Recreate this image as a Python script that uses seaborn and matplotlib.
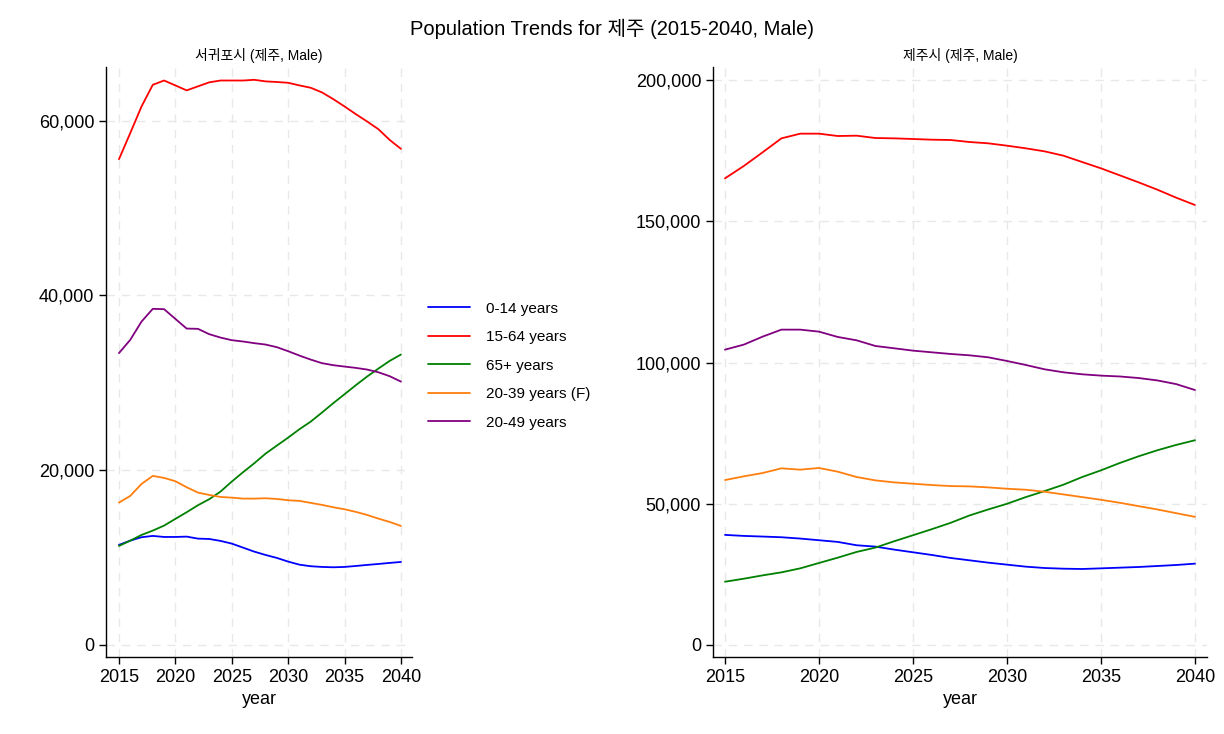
import numpy as np
import pandas as pd
import matplotlib
matplotlib.use("Agg")
import matplotlib.pyplot as plt
import seaborn as sns

# 연도
years = list(range(2015, 2041))

# 서귀포시 (제주, Male)
seogwipo_0_14 = [11450, 11940, 12330, 12480, 12360, 12360, 12400, 12170, 12130, 11910,
                 11600, 11140, 10680, 10300, 9960, 9540, 9190, 9010, 8930, 8890,
                 8930, 9040, 9160, 9270, 9390, 9500]
seogwipo_15_64 = [55600, 58580, 61630, 64110, 64600, 64040, 63470, 63930, 64390, 64600,
                  64600, 64600, 64680, 64500, 64430, 64340, 64040, 63770, 63240, 62470,
                  61630, 60750, 59910, 59030, 57800, 56780]
seogwipo_65 = [11330, 11940, 12590, 13090, 13660, 14430, 15190, 15990, 16680, 17550,
               18700, 19770, 20800, 21900, 22820, 23730, 24690, 25560, 26600, 27670,
               28700, 29730, 30720, 31630, 32510, 33240]
seogwipo_20_39f = [16290, 17060, 18430, 19350, 19120, 18740, 18050, 17440, 17170, 16940,
                   16860, 16750, 16750, 16790, 16710, 16560, 16490, 16260, 16030, 15760,
                   15530, 15230, 14880, 14460, 14080, 13620]
seogwipo_20_49 = [33400, 34920, 37010, 38470, 38430, 37320, 36210, 36180, 35570, 35180,
                  34880, 34730, 34540, 34380, 34080, 33620, 33120, 32660, 32250, 32020,
                  31860, 31710, 31520, 31210, 30760, 30140]

# 제주시 (제주, Male)
jeju_0_14 = [38980, 38620, 38390, 38150, 37680, 37090, 36490, 35310, 34830, 33770,
             32820, 31870, 30810, 29980, 29150, 28440, 27730, 27250, 27010, 26900,
             27130, 27370, 27610, 27960, 28320, 28790]
jeju_15_64 = [165290, 169660, 174500, 179450, 181110, 181110, 180280, 180400, 179570, 179450,
              179220, 178980, 178870, 178160, 177690, 176860, 175920, 174850, 173320, 171070,
              168830, 166350, 163870, 161270, 158440, 155840]
jeju_65 = [22390, 23460, 24640, 25710, 27130, 29030, 30920, 32940, 34480, 36730,
           38860, 41000, 43250, 45850, 47990, 50000, 52370, 54500, 56750, 59480,
           61850, 64450, 66820, 68960, 70850, 72510]
jeju_20_39f = [58410, 59720, 60900, 62560, 62090, 62680, 61370, 59480, 58290, 57580,
               57110, 56640, 56280, 56160, 55810, 55330, 54980, 54270, 53320, 52370,
               51420, 50360, 49170, 47990, 46680, 45380]
jeju_20_49 = [104600, 106380, 109210, 111690, 111690, 110980, 109090, 107910, 105900, 105080,
              104250, 103660, 103070, 102600, 101890, 100590, 99170, 97640, 96580, 95870,
              95400, 95100, 94550, 93700, 92400, 90300]

groups = ['0-14 years', '15-64 years', '65+ years', '20-39 years (F)', '20-49 years']
colors = {'0-14 years': 'blue', '15-64 years': 'red', '65+ years': 'green',
          '20-39 years (F)': '#ff7f0e', '20-49 years': 'purple'}


def long_df(series):
    rows = []
    for g, vals in zip(groups, series):
        for y, v in zip(years, vals):
            rows.append({'year': y, 'population': v, 'group': g})
    return pd.DataFrame(rows)


df_left = long_df([seogwipo_0_14, seogwipo_15_64, seogwipo_65, seogwipo_20_39f, seogwipo_20_49])
df_right = long_df([jeju_0_14, jeju_15_64, jeju_65, jeju_20_39f, jeju_20_49])

sns.set_style("white")
plt.rcParams['font.family'] = ['Liberation Sans', 'Noto Sans CJK KR']
plt.rcParams['text.color'] = 'black'
plt.rcParams['axes.labelcolor'] = 'black'
plt.rcParams['xtick.color'] = 'black'
plt.rcParams['ytick.color'] = 'black'

fig = plt.figure(figsize=(12.24, 7.34), dpi=100)
ax1 = fig.add_axes([0.0866, 0.105, 0.25, 0.804])
ax2 = fig.add_axes([0.5825, 0.105, 0.4036, 0.804])

sns.lineplot(data=df_left, x='year', y='population', hue='group', hue_order=groups,
             palette=colors, ax=ax1, linewidth=1.3)
sns.lineplot(data=df_right, x='year', y='population', hue='group', hue_order=groups,
             palette=colors, ax=ax2, linewidth=1.3, legend=False)

handles, labels = ax1.get_legend_handles_labels()
ax1.get_legend().remove()
fig.legend(handles, labels, loc='center', bbox_to_anchor=(0.416, 0.502), frameon=False,
           fontsize=11, handlelength=2.7, labelspacing=0.95, handletextpad=1.05)

ax1.set_xlim(2013.85, 2040.98)
ax1.set_ylim(-1370, 66170)
ax1.set_yticks([0, 20000, 40000, 60000])
ax2.set_xlim(2014.36, 2040.64)
ax2.set_ylim(-4250, 204800)
ax2.set_yticks([0, 50000, 100000, 150000, 200000])

for ax, title in [(ax1, '서귀포시 (제주, Male)'), (ax2, '제주시 (제주, Male)')]:
    ax.set_xticks([2015, 2020, 2025, 2030, 2035, 2040])
    ax.yaxis.set_major_formatter(matplotlib.ticker.FuncFormatter(lambda v, p: f'{int(v):,}'))
    ax.grid(True, linestyle=(0, (6, 5)), color='#e8e8e8', linewidth=1)
    ax.tick_params(axis='both', labelsize=13, direction='out', length=5, width=1,
                   left=True, bottom=True, color='black', labelcolor='black')
    ax.set_title(title, fontsize=10, pad=5, color='black')
    ax.set_xlabel('year', fontsize=13, color='black')
    ax.set_ylabel('')
    sns.despine(ax=ax)
    for s in ['left', 'bottom']:
        ax.spines[s].set_color('black')
        ax.spines[s].set_linewidth(1)

fig.suptitle('Population Trends for 제주 (2015-2040, Male)', fontsize=14.5, y=0.975,
             color='black')

fig.savefig('out.png', dpi=100)
